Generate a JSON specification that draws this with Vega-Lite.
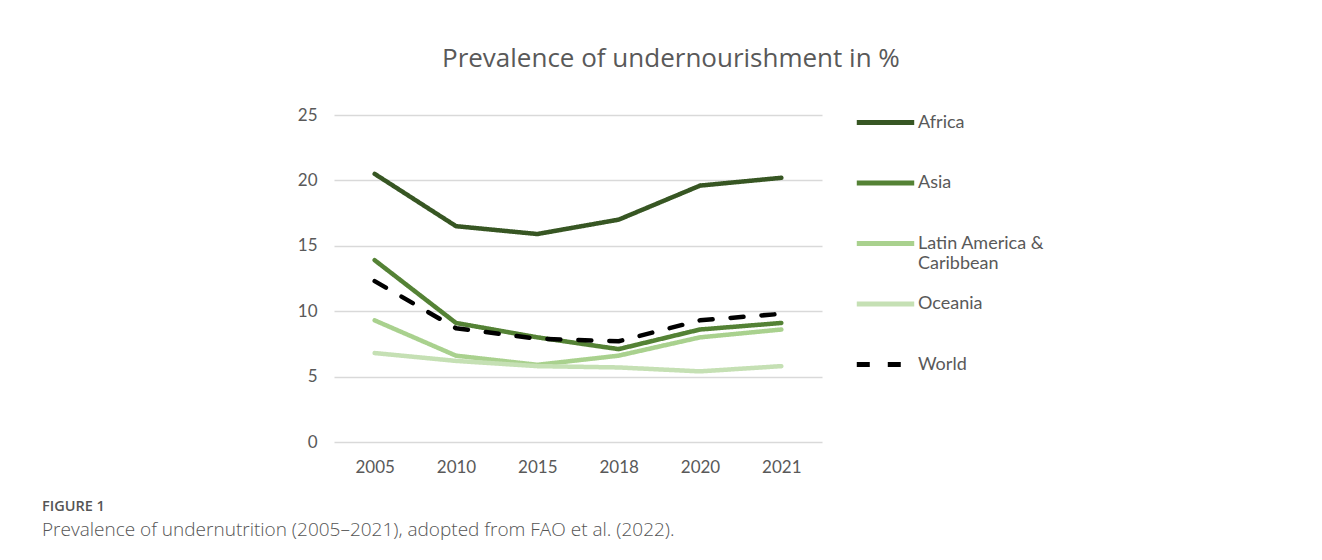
{
  "$schema": "https://vega.github.io/schema/vega-lite/v6.json",
  "padding": {"left": 42, "top": 46, "right": 5, "bottom": 5},
  "background": "white",
  "title": {
    "text": "FIGURE 1",
    "subtitle": "Prevalence of undernutrition (2005–2021), adopted from FAO et al. (2022).",
    "orient": "bottom",
    "anchor": "start",
    "frame": "group",
    "dx": -292,
    "offset": 25,
    "font": "Open Sans",
    "fontSize": 14.5,
    "fontWeight": 600,
    "color": "#555555",
    "subtitleFont": "Open Sans",
    "subtitleFontSize": 19,
    "subtitleFontWeight": 300,
    "subtitleColor": "#555555",
    "subtitlePadding": 6
  },
  "vconcat": [
    {
      "width": 488,
      "height": 327,
      "title": {
        "text": "Prevalence of undernourishment in %",
        "font": "Open Sans",
        "fontSize": 26,
        "fontWeight": "normal",
        "color": "#595959",
        "anchor": "start",
        "frame": "group",
        "dx": 108,
        "offset": 34
      },
      "data": {
        "values": [
          {"region": "Africa", "year": "2005", "value": 20.5},
          {"region": "Africa", "year": "2010", "value": 16.5},
          {"region": "Africa", "year": "2015", "value": 15.9},
          {"region": "Africa", "year": "2018", "value": 17.0},
          {"region": "Africa", "year": "2020", "value": 19.6},
          {"region": "Africa", "year": "2021", "value": 20.2},
          {"region": "Asia", "year": "2005", "value": 13.9},
          {"region": "Asia", "year": "2010", "value": 9.1},
          {"region": "Asia", "year": "2015", "value": 8.0},
          {"region": "Asia", "year": "2018", "value": 7.1},
          {"region": "Asia", "year": "2020", "value": 8.6},
          {"region": "Asia", "year": "2021", "value": 9.1},
          {"region": "Latin America & Caribbean", "year": "2005", "value": 9.3},
          {"region": "Latin America & Caribbean", "year": "2010", "value": 6.6},
          {"region": "Latin America & Caribbean", "year": "2015", "value": 5.9},
          {"region": "Latin America & Caribbean", "year": "2018", "value": 6.6},
          {"region": "Latin America & Caribbean", "year": "2020", "value": 8.0},
          {"region": "Latin America & Caribbean", "year": "2021", "value": 8.6},
          {"region": "Oceania", "year": "2005", "value": 6.8},
          {"region": "Oceania", "year": "2010", "value": 6.2},
          {"region": "Oceania", "year": "2015", "value": 5.8},
          {"region": "Oceania", "year": "2018", "value": 5.7},
          {"region": "Oceania", "year": "2020", "value": 5.4},
          {"region": "Oceania", "year": "2021", "value": 5.8},
          {"region": "World", "year": "2005", "value": 12.3},
          {"region": "World", "year": "2010", "value": 8.7},
          {"region": "World", "year": "2015", "value": 7.9},
          {"region": "World", "year": "2018", "value": 7.7},
          {"region": "World", "year": "2020", "value": 9.3},
          {"region": "World", "year": "2021", "value": 9.8}
        ]
      },
      "mark": {"type": "line", "strokeWidth": 4.5, "strokeCap": "round", "strokeJoin": "round"},
      "encoding": {
        "x": {
          "field": "year",
          "type": "ordinal",
          "scale": {"type": "point", "padding": 0.5},
          "axis": {
            "title": null,
            "labelAngle": 0,
            "labelFont": "Lato",
            "labelFontSize": 17,
            "labelColor": "#595959",
            "labelPadding": 17,
            "domain": false,
            "ticks": false,
            "grid": false
          }
        },
        "y": {
          "field": "value",
          "type": "quantitative",
          "scale": {"domain": [0, 25]},
          "axis": {
            "title": null,
            "values": [0, 5, 10, 15, 20, 25],
            "labelFont": "Lato",
            "labelFontSize": 17,
            "labelColor": "#595959",
            "labelPadding": 17,
            "domain": false,
            "ticks": false,
            "gridColor": "#d9d9d9",
            "gridWidth": 1.5
          }
        },
        "color": {
          "field": "region",
          "type": "nominal",
          "scale": {
            "domain": ["Africa", "Asia", "Latin America & Caribbean", "Oceania", "World"],
            "range": ["#375623", "#548235", "#a9d18e", "#c5e0b4", "#000000"]
          },
          "legend": {
            "title": null,
            "orient": "right",
            "offset": -46,
            "padding": 0,
            "symbolType": "stroke",
            "symbolSize": 3300,
            "symbolStrokeWidth": 5,
            "labelFont": "Lato",
            "labelFontSize": 18,
            "labelColor": "#595959",
            "labelOffset": 1,
            "clipHeight": 15,
            "gridAlign": "all",
            "rowPadding": 21.5,
            "labelExpr": "datum.label == 'Latin America & Caribbean' ? ['Latin America &', 'Caribbean'] : datum.label"
          }
        },
        "strokeDash": {
          "field": "region",
          "type": "nominal",
          "scale": {
            "domain": ["Africa", "Asia", "Latin America & Caribbean", "Oceania", "World"],
            "range": [[1, 0], [1, 0], [1, 0], [1, 0], [13, 18]]
          },
          "legend": {
            "title": null,
            "orient": "right",
            "offset": -46,
            "padding": 0,
            "symbolType": "stroke",
            "symbolSize": 3300,
            "symbolStrokeWidth": 5,
            "labelFont": "Lato",
            "labelFontSize": 18,
            "labelColor": "#595959",
            "labelOffset": 1,
            "clipHeight": 15,
            "gridAlign": "all",
            "rowPadding": 21.5,
            "labelExpr": "datum.label == 'Latin America & Caribbean' ? ['Latin America &', 'Caribbean'] : datum.label"
          }
        }
      }
    }
  ],
  "config": {"view": {"stroke": null}}
}
